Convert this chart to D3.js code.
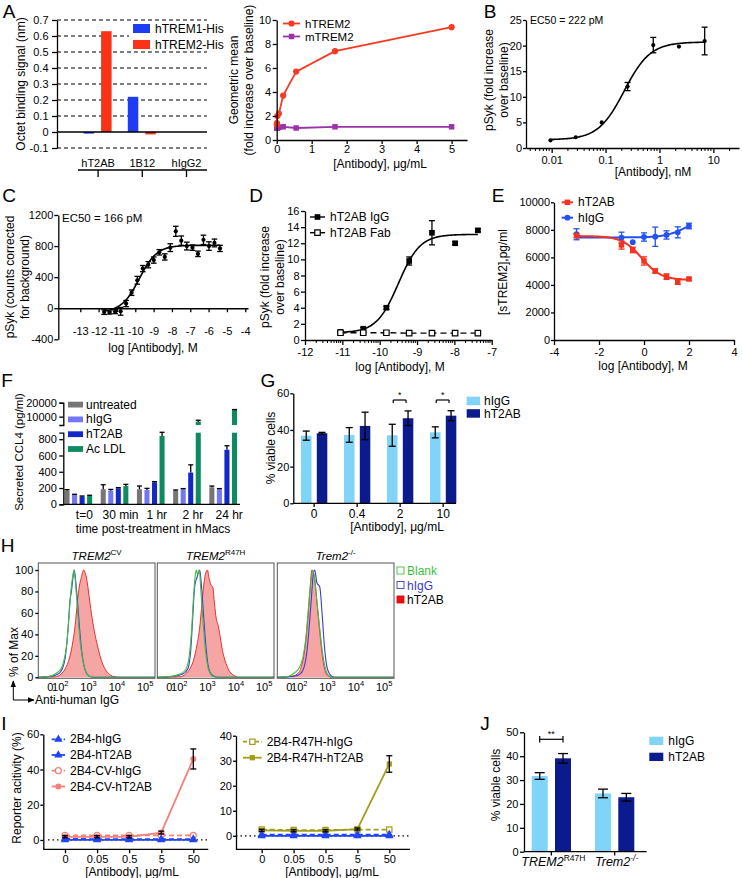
<!DOCTYPE html>
<html><head><meta charset="utf-8">
<script src="https://cdn.jsdelivr.net/npm/d3@7/dist/d3.min.js"></script>
<style>html,body{margin:0;padding:0;background:#fff;}svg{display:block}</style>
</head><body>
<script>
// ================= DATA =================
// A (left): Octet binding
const aCats = ["hT2AB","1B12","hIgG2"];
const aSeries = ["hTREM1-His","hTREM2-His"];
const aTREM1 = [-0.01, 0.22, 0];
const aTREM2 = [0.63, -0.015, 0];
const aYTicks = [-0.1,0,0.1,0.2,0.3,0.4,0.5,0.6,0.7];
// A (right): geometric mean
const a2Dose = [0.0023,0.0069,0.021,0.062,0.185,0.556,1.667,5];
const a2hTREM2 = [1.3,1.4,2.0,2.2,3.7,5.7,7.4,9.4];
const a2mTREM2 = [1.0,1.0,1.0,1.05,1.1,1.0,1.1,1.1];
const a2XTicks = [0,1,2,3,4,5];
const a2YTicks = [0,2,4,6,8,10];
// B
const bDose = [0.0095,0.028,0.085,0.256,0.767,2.3,6.9];
const bPSyk = [1.5,2.1,5.0,12.0,20.1,19.8,20.9];
const bErr  = [0,0,0,0.8,1.5,0,2.7];
const bFit  = [1.6,20.7,Math.log10(0.222),1.8]; // left, right, logEC50, Hill
const bXTicks = [0.01,0.1,1,10];
const bYTicks = [0,5,10,15,20,25];
// C
const cLogDose = [-11.70,-11.40,-11.10,-10.80,-10.50,-10.20,-9.89,-9.59,-9.29,-8.99,-8.69,-8.39,-8.09,-7.79,-7.49,-7.19,-6.88,-6.58,-6.28,-5.98,-5.68,-5.38];
const cPSyk = [-50,-55,-45,-40,60,200,360,510,560,620,720,660,780,990,870,800,780,700,880,800,840,770];
const cErr  = [30,20,25,50,40,35,50,40,40,40,35,40,50,65,60,50,35,35,60,55,50,40];
const cFit  = [-50,810,-9.78,0.9];
const cXTicks = [-13,-12,-11,-10,-9,-8,-7,-6,-5,-4];
const cYTicks = [-400,0,400,800,1200];
// D
const dLogDose = [-11.05,-10.44,-9.82,-9.21,-8.60,-7.98,-7.37];
const dIgG = [1.0,1.4,4.0,9.8,13.3,12.0,13.6];
const dIgGErr = [0.1,0.15,0.2,0.5,1.5,0.2,0.2];
const dFab = [0.9,0.9,0.9,0.85,0.85,0.85,0.85];
const dFit = [0.9,13.1,-9.5,1.5];
const dXTicks = [-12,-11,-10,-9,-8,-7];
const dYTicks = [0,2,4,6,8,10,12,14,16];
// E
const eLogDose = [-3,-1,-0.5,0,0.5,1,1.5,2];
const eHT2AB = [7580,6900,6540,5740,5010,4600,4240,4430];
const eHT2ABErr = [150,300,200,300,150,200,200,100];
const eHIgG = [7680,7430,7100,7480,7500,7630,7820,8280];
const eHIgGErr = [400,400,0,300,700,300,400,200];
const eFitHT2AB = [7550,4350,-0.1,1];
const eFitHIgG = [7450,8800,1.8,1];
const eXTicks = [-4,-2,0,2,4];
const eYTicks = [0,2000,4000,6000,8000,10000];
// F
const fGroups = ["t=0","30 min","1 hr","2 hr","24 hr"];
const fSeries = ["untreated","hIgG","hT2AB","Ac LDL"];
const fUntreated = [168,185,185,168,209];
const fHIgG = [115,168,176,185,185];
const fHT2AB = [94,197,270,390,670];
const fAcLDL = [103,225,840,6400,14800];
const fUntreatedErr = [12,55,40,8,15];
const fHIgGErr = [8,15,20,8,8];
const fHT2ABErr = [8,8,8,95,50];
const fAcLDLErr = [8,20,45,1000,300];
const fLowTicks = [0,200,400,600,800];
const fHighTicks = [10000,20000];
// G
const gCats = ["0","0.4","2","10"];
const gHIgG = [36.9,37.3,37.1,38.7];
const gHIgGErr = [2.5,4,6,3];
const gHT2AB = [38.2,42.2,46.4,47.8];
const gHT2ABErr = [0.5,7.5,4,2.7];
const gYTicks = [0,20,40,60];
// H (x in log10 display units, y in % of max)
const hCV_Blank = [[1.3,0],[1.7,1],[1.95,4],[2.1,8],[2.2,15],[2.3,30],[2.38,55],[2.45,80],[2.52,95],[2.56,100],[2.6,92],[2.65,75],[2.72,50],[2.8,28],[2.9,12],[3.0,4],[3.1,1],[3.3,0],[5.42,0]];
const hCV_hIgG = [[1.3,0],[1.75,1],[2.0,3],[2.15,8],[2.25,18],[2.35,45],[2.42,72],[2.47,80],[2.52,92],[2.57,100],[2.62,90],[2.68,72],[2.75,48],[2.82,27],[2.92,10],[3.02,3],[3.15,0.5],[3.3,0],[5.42,0]];
const hCV_hT2AB = [[1.3,0],[1.9,0.5],[2.1,3],[2.25,8],[2.4,18],[2.5,30],[2.6,48],[2.68,70],[2.75,85],[2.82,93],[2.9,100],[2.97,96],[3.03,88],[3.1,74],[3.2,55],[3.3,40],[3.42,26],[3.55,14],[3.7,6],[3.85,2],[4.0,0.5],[4.2,0],[5.42,0]];
const hR47H_Blank = [[1.3,0],[1.8,1],[2.1,3],[2.3,7],[2.4,15],[2.5,40],[2.58,75],[2.64,95],[2.68,100],[2.72,96],[2.78,100],[2.84,80],[2.92,50],[3.0,25],[3.08,10],[3.18,3],[3.3,0.5],[3.5,0],[5.42,0]];
const hR47H_hIgG = [[1.3,0],[1.9,1],[2.2,3],[2.38,8],[2.48,25],[2.56,60],[2.62,85],[2.7,93],[2.76,98],[2.8,100],[2.86,85],[2.94,55],[3.02,28],[3.1,10],[3.2,3],[3.35,0.5],[3.5,0],[5.42,0]];
const hR47H_hT2AB = [[1.3,0],[2.1,0.5],[2.3,3],[2.45,8],[2.58,16],[2.7,30],[2.8,47],[2.88,70],[2.94,86],[3.0,96],[3.07,100],[3.13,92],[3.2,86],[3.26,84],[3.32,68],[3.38,55],[3.45,48],[3.52,38],[3.6,25],[3.7,15],[3.8,8],[3.9,4],[4.05,1],[4.2,0],[5.42,0]];
const hKO_Blank = [[1.3,0],[1.7,1],[1.9,4],[2.05,8],[2.2,18],[2.3,35],[2.4,65],[2.48,88],[2.55,100],[2.62,92],[2.7,70],[2.8,45],[2.9,22],[3.0,8],[3.1,2],[3.25,0],[5.42,0]];
const hKO_hIgG = [[1.3,0],[1.9,1],[2.1,3],[2.25,10],[2.35,25],[2.45,55],[2.52,80],[2.58,98],[2.62,100],[2.7,88],[2.8,84],[2.88,60],[2.96,30],[3.05,10],[3.15,3],[3.3,0],[5.42,0]];
const hKO_hT2AB = [[1.3,0],[1.8,1],[2.0,3],[2.15,10],[2.28,28],[2.38,55],[2.45,80],[2.52,100],[2.6,95],[2.7,70],[2.8,42],[2.9,18],[3.0,5],[3.1,1],[3.25,0],[5.42,0]];
const hTitles = ["TREM2","TREM2","Trem2"];
const hTitleSups = ["CV","R47H","-/-"];
const hXTickPos = [1.72,2,3,4,5];
const hXTickBase = ["0","10","10","10","10"];
const hXTickExp = ["","2","3","4","5"];
const hYTicks = [0,20,40,60,80,100];
const hLegend = ["Blank","hIgG","hT2AB"];
// I
const iCats = ["0","0.05","0.5","5","50"];
const i2B4hIgG = [0.6,0.5,0.5,0.5,0.5];
const i2B4hT2AB = [0,0,0,0,0];
const iCVhIgG = [2.6,2.6,2.6,2.6,2.6];
const iCVhT2AB = [1.8,1.8,1.8,4.2,46];
const iCVhT2ABErr = [0.6,0.6,0.6,0.8,5.7];
const iR2B4hIgG = [0.5,0.5,0.5,0.5,0.5];
const iR2B4hT2AB = [0,0,0,0,0];
const iR47HhIgG = [2.5,2.3,2.3,2.5,2.5];
const iR47HhT2AB = [2.2,2.0,2.0,2.7,28.7];
const iR47HhT2ABErr = [0.4,0.4,0.4,0.4,3.3];
const iLeftYTicks = [0,20,40,60];
const iRightYTicks = [0,10,20,30,40];
// J
const jCats = ["TREM2R47H","Trem2-/-"];
const jCatBase = ["TREM2","Trem2"];
const jCatSup = ["R47H","-/-"];
const jHIgG = [31.7,24.4];
const jHIgGErr = [1.4,1.8];
const jHT2AB = [39.1,22.8];
const jHT2ABErr = [2,1.6];
const jYTicks = [0,10,20,30,40,50];

// ================= HELPERS =================
const FONT = "'Liberation Sans', Arial, Helvetica, sans-serif";
const svg = d3.select("body").append("svg").attr("width",742).attr("height",878)
  .style("font-family",FONT);
const defs = svg.append("defs");
defs.append("marker").attr("id","arr").attr("viewBox","0 0 10 10").attr("refX",9).attr("refY",5)
  .attr("markerWidth",7).attr("markerHeight",7).attr("orient","auto")
  .append("path").attr("d","M0,1L10,5L0,9Z").attr("fill","#000");

function txt(x,y,s,o={}){
  const t = svg.append("text").attr("x",x).attr("y",y).attr("font-size",o.size||11)
    .attr("text-anchor",o.anchor||"middle").attr("dominant-baseline",o.base||"central")
    .attr("fill",o.fill||"#000").text(s);
  if(o.rot) t.attr("transform",`rotate(${o.rot},${x},${y})`);
  if(o.italic) t.attr("font-style","italic");
  return t;
}
function sty(g){
  g.attr("font-family",FONT).attr("font-size",11);
  g.select(".domain").attr("stroke","#000").attr("stroke-width",1.3);
  g.selectAll(".tick line").attr("stroke","#000").attr("stroke-width",1.3);
  g.selectAll(".tick text").attr("fill","#000");
  return g;
}
const sfmt = d => String(d);
function yAx(x,scale,ticks,ts,pad,outer){
  return sty(svg.append("g").attr("transform",`translate(${x},0)`)
    .call(d3.axisLeft(scale).tickValues(ticks).tickSize(ts).tickSizeOuter(outer||0).tickPadding(pad).tickFormat(sfmt)));
}
function xAx(y,scale,ticks,ts,pad){
  return sty(svg.append("g").attr("transform",`translate(0,${y})`)
    .call(d3.axisBottom(scale).tickValues(ticks).tickSize(ts).tickSizeOuter(0).tickPadding(pad).tickFormat(sfmt)));
}
function hline(x1,x2,y,o={}){
  return svg.append("line").attr("x1",x1).attr("x2",x2).attr("y1",y).attr("y2",y)
    .attr("stroke",o.c||"#000").attr("stroke-width",o.w||1.3).attr("stroke-dasharray",o.dash||null);
}
function vline(x,y1,y2,o={}){
  return svg.append("line").attr("x1",x).attr("x2",x).attr("y1",y1).attr("y2",y2)
    .attr("stroke",o.c||"#000").attr("stroke-width",o.w||1.3);
}
function ebar(x,yTop,yBot,cap,color){
  const g = svg.append("g").attr("stroke",color||"#000").attr("stroke-width",1.3);
  g.append("line").attr("x1",x).attr("x2",x).attr("y1",yTop).attr("y2",yBot);
  g.append("line").attr("x1",x-cap).attr("x2",x+cap).attr("y1",yTop).attr("y2",yTop);
  g.append("line").attr("x1",x-cap).attr("x2",x+cap).attr("y1",yBot).attr("y2",yBot);
}
function fourPL(p,x){ return p[0] + (p[1]-p[0])/(1+Math.pow(10,(p[2]-x)*p[3])); }
function fitPath(lo,hi,p,xS,yS){
  const xs = d3.range(0,121).map(i=>lo+(hi-lo)*i/120);
  return d3.line().x(x=>xS(x)).y(x=>yS(fourPL(p,x)))(xs);
}
function sym(type,size){ return d3.symbol().type(type).size(size)(); }
function marker(x,y,type,size,fill,stroke){
  svg.append("path").attr("d",sym(type,size)).attr("transform",`translate(${x},${y})`)
    .attr("fill",fill).attr("stroke",stroke||"none").attr("stroke-width",1.2);
}
function letter(x,y,s){ txt(x,y,s,{size:19}); }

// ================= PANEL A (left) =================
(function(){
  const y = d3.scaleLinear().domain([-0.1,0.7]).range([148,20]);
  const x0 = d3.scaleBand().domain(aCats).range([76,208.6]);
  const x1 = d3.scaleBand().domain(aSeries).range([-14.5,13.5]).paddingInner(0.4);
  const col = ["#1f3cf5","#fa3217"];
  aYTicks.filter(t=>t!==0).forEach(t=>hline(57,207,y(t),{w:1.2,dash:"4,3"}));
  svg.append("rect").attr("x",129).attr("y",23).attr("width",80).attr("height",28).attr("fill","#fff");
  [aTREM1,aTREM2].forEach((vals,si)=>{
    vals.forEach((v,i)=>{
      if(v===0) return;
      const cx = x0(aCats[i]) + x0.bandwidth()/2;
      svg.append("rect").attr("x",cx + x1(aSeries[si])).attr("width",x1.bandwidth())
        .attr("y",Math.min(y(v),y(0))).attr("height",Math.abs(y(v)-y(0))).attr("fill",col[si]);
    });
  });
  hline(57,207,y(0));
  yAx(57,y,aYTicks,5,3.5);
  aSeries.forEach((s,i)=>{
    svg.append("rect").attr("x",133).attr("y",24+i*16).attr("width",17).attr("height",9).attr("fill",col[i]);
    txt(155,29+i*16,s,{size:12,anchor:"start"});
  });
  hline(78,207,170);
  aCats.forEach(c=>{
    const cx = x0(c)+x0.bandwidth()/2;
    txt(cx,163,c,{size:11});
    vline(cx,170,177);
  });
  txt(21,84,"Octet binding signal (nm)",{rot:-90,size:12});
  letter(9,11,"A");
})();

// ================= PANEL A (right) =================
(function(){
  const x = d3.scaleLinear().domain([0,5.44]).range([276.7,467]);
  const y = d3.scaleLinear().domain([0,10]).range([140,20]);
  const red = "#f93a22", pur = "#9b33a8";
  const line = d3.line().x((d,i)=>x(a2Dose[i])).y(d=>y(d));
  svg.append("path").attr("d",line(a2mTREM2)).attr("fill","none").attr("stroke",pur).attr("stroke-width",1.8);
  svg.append("path").attr("d",line(a2hTREM2)).attr("fill","none").attr("stroke",red).attr("stroke-width",1.8);
  a2mTREM2.forEach((v,i)=>marker(x(a2Dose[i]),y(v),d3.symbolSquare,30,pur));
  a2hTREM2.forEach((v,i)=>marker(x(a2Dose[i]),y(v),d3.symbolCircle,30,red));
  yAx(276.7,y,a2YTicks,4,1.5);
  xAx(140,x,a2XTicks,4,1);
  hline(283,300,23.5,{c:red,w:1.8}); marker(291.5,23.5,d3.symbolCircle,30,red);
  txt(305,23.5,"hTREM2",{size:11.5,anchor:"start"});
  hline(283,300,36.5,{c:pur,w:1.8}); marker(291.5,36.5,d3.symbolSquare,30,pur);
  txt(305,36.5,"mTREM2",{size:11.5,anchor:"start"});
  txt(380,164,"[Antibody], \u03bcg/mL",{size:12});
  txt(234,80,"Geometric mean",{rot:-90,size:12});
  txt(249,80,"(fold increase over baseline)",{rot:-90,size:12});
  letter(490,11,"B");
})();

// ================= PANEL B =================
(function(){
  const x = d3.scaleLog().domain([0.00334,29.9]).range([526,739]);
  const y = d3.scaleLinear().domain([0,25]).range([148,20]);
  svg.append("path").attr("d",fitPath(Math.log10(bDose[0]),Math.log10(bDose[6]),bFit,v=>x(Math.pow(10,v)),y))
    .attr("fill","none").attr("stroke","#000").attr("stroke-width",1.6);
  bDose.forEach((d,i)=>{
    if(bErr[i]) ebar(x(d),y(bPSyk[i]+bErr[i]),y(bPSyk[i]-bErr[i]),3);
    marker(x(d),y(bPSyk[i]),d3.symbolCircle,14,"#000");
  });
  yAx(526,y,bYTicks,3,1);
  xAx(148,x,bXTicks,5,3);
  [-3,-2,-1,0,1].forEach(dd=>d3.range(2,10).forEach(k=>{
    const v = k*Math.pow(10,dd);
    if(v>x.domain()[0] && v<x.domain()[1]) vline(x(v),148,151,{w:1});
  }));
  txt(530,20,"EC50 = 222 pM",{size:10.5,anchor:"start"});
  txt(653,172,"[Antibody], nM",{size:12});
  txt(489,80,"pSyk (fold increase",{rot:-90,size:12});
  txt(504,80,"over baseline)",{rot:-90,size:12});
})();

// ================= PANEL C =================
(function(){
  const x = d3.scaleLinear().domain([-14.2,-3.85]).range([58.3,248]);
  const y = d3.scaleLinear().domain([-400,1200]).range([339.3,215]);
  svg.append("path").attr("d",fitPath(cLogDose[0],cLogDose[cLogDose.length-1],cFit,x,y))
    .attr("fill","none").attr("stroke","#000").attr("stroke-width",1.6);
  cLogDose.forEach((d,i)=>{
    ebar(x(d),y(cPSyk[i]+cErr[i]),y(cPSyk[i]-cErr[i]),2.8);
    marker(x(d),y(cPSyk[i]),d3.symbolCircle,14,"#000");
  });
  yAx(58.3,y,cYTicks,4,1);
  xAx(y(0),x,cXTicks,4,15);
  txt(62,218,"EC50 = 166 pM",{size:11.5,anchor:"start"});
  txt(153,348,"log [Antibody], M",{size:12});
  txt(10,277,"pSyk (counts corrected",{rot:-90,size:12});
  txt(25,277,"for background)",{rot:-90,size:12});
  letter(9,195,"C");
})();

// ================= PANEL D =================
(function(){
  const x = d3.scaleLinear().domain([-12,-7]).range([305,491.7]);
  const y = d3.scaleLinear().domain([0,16]).range([340,211]);
  svg.append("path").attr("d",d3.line().x((d,i)=>x(dLogDose[i])).y(d=>y(d))(dFab))
    .attr("fill","none").attr("stroke","#000").attr("stroke-width",1.4).attr("stroke-dasharray","6,4");
  svg.append("path").attr("d",fitPath(dLogDose[0],dLogDose[dLogDose.length-1],dFit,x,y))
    .attr("fill","none").attr("stroke","#000").attr("stroke-width",1.6);
  dLogDose.forEach((d,i)=>{
    ebar(x(d),y(dIgG[i]+dIgGErr[i]),y(dIgG[i]-dIgGErr[i]),3);
    marker(x(d),y(dIgG[i]),d3.symbolSquare,32,"#000");
    marker(x(d),y(dFab[i]),d3.symbolSquare,30,"#fff","#000");
  });
  yAx(305,y,dYTicks,4,1.5);
  xAx(340,x,dXTicks,5,3);
  [-12,-11,-10,-9,-8].forEach(dd=>d3.range(2,10).forEach(k=>vline(x(dd+Math.log10(k)),340,343,{w:1})));
  hline(310,325,217,{w:1.4}); marker(317.5,217,d3.symbolSquare,32,"#000");
  txt(330,217,"hT2AB IgG",{size:12,anchor:"start"});
  hline(310,325,232.7,{w:1.4}); marker(317.5,232.7,d3.symbolSquare,30,"#fff","#000");
  txt(330,232.7,"hT2AB Fab",{size:12,anchor:"start"});
  txt(400,367,"log [Antibody], M",{size:12});
  txt(265,277,"pSyk (fold increase",{rot:-90,size:12});
  txt(280,277,"over baseline)",{rot:-90,size:12});
  letter(256,195,"D");
})();

// ================= PANEL E =================
(function(){
  const x = d3.scaleLinear().domain([-4,4]).range([554,734]);
  const y = d3.scaleLinear().domain([0,10000]).range([340,202.3]);
  const red = "#f5321f", blue = "#2451f0";
  svg.append("path").attr("d",fitPath(-3,2,eFitHIgG,x,y)).attr("fill","none").attr("stroke",blue).attr("stroke-width",2);
  svg.append("path").attr("d",fitPath(-3,2,eFitHT2AB,x,y)).attr("fill","none").attr("stroke",red).attr("stroke-width",2);
  eLogDose.forEach((d,i)=>{
    if(eHIgGErr[i]) ebar(x(d),y(eHIgG[i]+eHIgGErr[i]),y(eHIgG[i]-eHIgGErr[i]),3,blue);
    marker(x(d),y(eHIgG[i]),d3.symbolCircle,26,blue);
    if(eHT2ABErr[i]) ebar(x(d),y(eHT2AB[i]+eHT2ABErr[i]),y(eHT2AB[i]-eHT2ABErr[i]),3,red);
    marker(x(d),y(eHT2AB[i]),d3.symbolSquare,30,red);
  });
  yAx(554,y,eYTicks,3,1);
  xAx(340,x,eXTicks,5,3);
  hline(561.7,573,202.3,{c:red,w:2}); marker(567.4,202.3,d3.symbolSquare,30,red);
  txt(578,202.3,"hT2AB",{size:12,anchor:"start"});
  hline(561.7,573,217.7,{c:blue,w:2}); marker(567.4,217.7,d3.symbolCircle,26,blue);
  txt(578,217.7,"hIgG",{size:12,anchor:"start"});
  txt(643,366,"log [Antibody], M",{size:12});
  txt(503,272,"[sTREM2],pg/ml",{rot:-90,size:12});
  letter(498,195,"E");
})();

// ================= PANEL F =================
(function(){
  const x0 = d3.scaleBand().domain(fGroups).range([64.5,237]).paddingInner(0.236);
  const x1 = d3.scaleBand().domain(fSeries).range([0,x0.bandwidth()]).paddingInner(0.33);
  const yLow = d3.scaleLinear().domain([0,880]).range([504.3,432.7]);
  const yHigh = d3.scaleLinear().domain([4000,20000]).range([425,402.7]);
  const cols = ["#767676","#7377f5","#1428c8","#0e8a5f"];
  const vals = [fUntreated,fHIgG,fHT2AB,fAcLDL];
  const errs = [fUntreatedErr,fHIgGErr,fHT2ABErr,fAcLDLErr];
  fGroups.forEach((g,gi)=>{
    fSeries.forEach((s,si)=>{
      const v = vals[si][gi], e = errs[si][gi];
      const bx = x0(g)+x1(s), bw = x1.bandwidth(), cx = bx+bw/2;
      if(v<=880){
        svg.append("rect").attr("x",bx).attr("width",bw).attr("y",yLow(v)).attr("height",yLow(0)-yLow(v)).attr("fill",cols[si]);
        vline(cx,yLow(v),yLow(v+e)); hline(cx-2.5,cx+2.5,yLow(v+e));
      } else {
        svg.append("rect").attr("x",bx).attr("width",bw).attr("y",yLow(880)).attr("height",yLow(0)-yLow(880)).attr("fill",cols[si]);
        svg.append("rect").attr("x",bx).attr("width",bw).attr("y",yHigh(v)).attr("height",yHigh(4000)-yHigh(v)).attr("fill",cols[si]);
        vline(cx,yHigh(v),yHigh(v+e)); hline(cx-2.5,cx+2.5,yHigh(v+e));
      }
    });
    txt(x0(g)+x0.bandwidth()/2+6,514.5,g,{size:12});
  });
  yAx(63.3,yLow,fLowTicks,4,2.5,4);
  yAx(63.3,yHigh,fHighTicks,4,2.5,4);
  hline(63.3,240,504.3);
  fSeries.forEach((s,i)=>{
    svg.append("rect").attr("x",68).attr("y",401.7+i*14.8).attr("width",15).attr("height",5.8).attr("fill",cols[i]);
    txt(86,404.6+i*14.8,s,{size:12,anchor:"start"});
  });
  txt(153,528.5,"time post-treatment in hMacs",{size:12});
  txt(19,452,"Secreted CCL4 (pg/ml)",{rot:-90,size:11.5});
  letter(7,380,"F");
})();

// ================= PANEL G =================
(function(){
  const x0 = d3.scaleBand().domain(gCats).range([301,301+4*43]);
  const x1 = d3.scaleBand().domain(["hIgG","hT2AB"]).range([0,26.3]).paddingInner(0.335);
  const y = d3.scaleLinear().domain([0,60]).range([503.3,393.3]);
  const cols = ["#7fd4f8","#0b1a8c"];
  const vals = [gHIgG,gHT2AB], errs = [gHIgGErr,gHT2ABErr];
  gCats.forEach((c,ci)=>{
    ["hIgG","hT2AB"].forEach((s,si)=>{
      const v = vals[si][ci], e = errs[si][ci], bx = x0(c)+x1(s), bw = x1.bandwidth();
      svg.append("rect").attr("x",bx).attr("width",bw).attr("y",y(v)).attr("height",y(0)-y(v)).attr("fill",cols[si]);
      ebar(bx+bw/2,y(v+e),y(v-e),3.5);
    });
    const gc = x0(c)+13.15;
    vline(gc,503.3,507);
    txt(gc,513.5,c,{size:12});
  });
  hline(293.3,456,503.3);
  yAx(293.3,y,gYTicks,3,1);
  ["2","10"].forEach(c=>{
    const xa = x0(c)+x1("hIgG")+x1.bandwidth()/2+1, xb = x0(c)+x1("hT2AB")+x1.bandwidth()/2-2;
    hline(xa,xb,400,{w:1.2}); vline(xa,400,403,{w:1.2}); vline(xb,400,403,{w:1.2});
    txt((xa+xb)/2,395,"*",{size:9});
  });
  ["hIgG","hT2AB"].forEach((s,i)=>{
    svg.append("rect").attr("x",466.7).attr("y",396.7+i*12.5).attr("width",13.3).attr("height",8.5).attr("fill",cols[i]);
    txt(484,401+i*12.5,s,{size:12,anchor:"start"});
  });
  txt(397,526.5,"[Antibody], \u03bcg/mL",{size:12});
  txt(271,448,"% viable cells",{rot:-90,size:12});
  letter(268,380,"G");
})();

// ================= PANEL H =================
(function(){
  const hy = d3.scaleLinear().domain([0,100]).range([677.3,570]);
  const lefts = [38.3,157.3,277.3];
  const data = [[hCV_Blank,hCV_hIgG,hCV_hT2AB],[hR47H_Blank,hR47H_hIgG,hR47H_hT2AB],[hKO_Blank,hKO_hIgG,hKO_hT2AB]];
  const green = "#3fbf3f", blue = "#3b3bd6", red = "#e8302a";
  lefts.forEach((L,fi)=>{
    const hx = d3.scaleLinear().domain([1.3,5.42]).range([L,L+116.7]);
    const [bl,ig,t2] = data[fi];
    const area = d3.area().x(d=>hx(d[0])).y0(hy(0)).y1(d=>hy(d[1])).curve(d3.curveMonotoneX);
    const line = d3.line().x(d=>hx(d[0])).y(d=>hy(d[1])).curve(d3.curveMonotoneX);
    svg.append("path").attr("d",area(t2)).attr("fill","#f6a5a5");
    svg.append("path").attr("d",line(t2)).attr("fill","none").attr("stroke",red).attr("stroke-width",1);
    svg.append("path").attr("d",line(ig)).attr("fill","none").attr("stroke",blue).attr("stroke-width",1.1);
    svg.append("path").attr("d",line(bl)).attr("fill","none").attr("stroke",green).attr("stroke-width",1.1);
    svg.append("rect").attr("x",L).attr("y",563).attr("width",116.7).attr("height",115.3)
      .attr("fill","none").attr("stroke","#555").attr("stroke-width",1);
    hXTickPos.forEach((p,i)=>{
      const t = svg.append("text").attr("y",690.5).attr("font-size",11).attr("fill","#000");
      if(hXTickExp[i]){
        t.attr("x",hx(p)-6.1).attr("text-anchor","start");
        t.append("tspan").text(hXTickBase[i]);
        t.append("tspan").attr("font-size",7.5).attr("dy",-4.5).text(hXTickExp[i]);
      } else {
        t.attr("x",hx(p)).attr("text-anchor","middle").text(hXTickBase[i]);
      }
    });
    const tt = svg.append("text").attr("x",L+58.35).attr("y",560).attr("font-size",11.5).attr("text-anchor","middle");
    tt.append("tspan").attr("font-style","italic").text(hTitles[fi]);
    tt.append("tspan").attr("font-size",8).attr("dy",-5).text(hTitleSups[fi]);
  });
  const g = yAx(38.3,hy,hYTicks,3,2);
  g.select(".domain").remove();
  const lc = [green,blue,"#000"];
  hLegend.forEach((s,i)=>{
    const r = svg.append("rect").attr("x",397).attr("y",567+i*14.5).attr("width",7).attr("height",7);
    if(i===2) r.attr("fill","#f01010").attr("stroke","#c00").attr("stroke-width",0.8);
    else r.attr("fill","#fff").attr("stroke",lc[i]).attr("stroke-width",0.9);
    txt(407,571+i*14.5,s,{size:12,anchor:"start",fill:lc[i]});
  });
  txt(14,652,"% of Max",{rot:-90,size:12});
  svg.append("line").attr("x1",13.3).attr("x2",13.3).attr("y1",700).attr("y2",681).attr("stroke","#000").attr("stroke-width",1).attr("marker-end","url(#arr)");
  svg.append("line").attr("x1",13.3).attr("x2",34).attr("y1",700).attr("y2",700).attr("stroke","#000").attr("stroke-width",1).attr("marker-end","url(#arr)");
  txt(35,700,"Anti-human IgG",{size:12,anchor:"start"});
  letter(7.5,545,"H");
})();

// ================= PANEL I =================
(function(){
  const blue = "#1f45f5", salmon = "#f5807a", olive = "#a29e1b";
  function drawSeries(xS,yS,vals,color,dash,type,open,w){
    svg.append("path").attr("d",d3.line().x((d,i)=>xS(iCats[i])).y(d=>yS(d))(vals))
      .attr("fill","none").attr("stroke",color).attr("stroke-width",w||1.8).attr("stroke-dasharray",dash?"5,3":null);
    vals.forEach((v,i)=>marker(xS(iCats[i]),yS(v),type,type===d3.symbolTriangle?30:28,open?"#fff":color,open?color:null));
  }
  function legendItem(x1,x2,y,color,dash,type,open,label){
    hline(x1,x2,y,{c:color,w:1.8,dash:dash?"4,2":null});
    marker((x1+x2)/2,y,type,type===d3.symbolTriangle?30:28,open?"#fff":color,open?color:null);
    txt(x2+5,y,label,{size:12,anchor:"start"});
  }
  // left
  const xl = d3.scalePoint().domain(iCats).range([65,193.3]);
  const yl = d3.scaleLinear().domain([-5.3,60]).range([849.3,734.3]);
  hline(48,208,yl(0),{w:1.3,dash:"1.5,3"});
  drawSeries(xl,yl,iCVhIgG,salmon,true,d3.symbolCircle,true);
  drawSeries(xl,yl,iCVhT2AB,salmon,false,d3.symbolCircle,false);
  drawSeries(xl,yl,i2B4hIgG,blue,true,d3.symbolTriangle,false);
  drawSeries(xl,yl,i2B4hT2AB,blue,false,d3.symbolTriangle,false);
  iCats.forEach((c,i)=>ebar(xl(c),yl(iCVhT2AB[i]+iCVhT2ABErr[i]),yl(iCVhT2AB[i]-iCVhT2ABErr[i]),3));
  yAx(43.3,yl,iLeftYTicks,3,1);
  const gl = xAx(849.3,xl,iCats,4,2); gl.select(".domain").remove();
  hline(43.3,208.3,849.3);
  legendItem(51.7,65,739.3,blue,true,d3.symbolTriangle,false,"2B4-hIgG");
  legendItem(51.7,65,755,blue,false,d3.symbolTriangle,false,"2B4-hT2AB");
  legendItem(51.7,65,770.7,salmon,true,d3.symbolCircle,true,"2B4-CV-hIgG");
  legendItem(51.7,65,786.5,salmon,false,d3.symbolCircle,false,"2B4-CV-hT2AB");
  txt(132,871.5,"[Antibody], \u03bcg/mL",{size:12});
  txt(16.7,788,"Reporter acitivity (%)",{rot:-90,size:12});
  // right
  const xr = d3.scalePoint().domain(iCats).range([261.7,389.3]);
  const yr = d3.scaleLinear().domain([-5.4,40]).range([849.3,735.7]);
  hline(236,410,yr(0),{w:1.3,dash:"1.5,3"});
  drawSeries(xr,yr,iR47HhIgG,olive,true,d3.symbolSquare,true);
  drawSeries(xr,yr,iR47HhT2AB,olive,false,d3.symbolSquare,false);
  drawSeries(xr,yr,iR2B4hIgG,blue,true,d3.symbolTriangle,false);
  drawSeries(xr,yr,iR2B4hT2AB,blue,false,d3.symbolTriangle,false);
  iCats.forEach((c,i)=>ebar(xr(c),yr(iR47HhT2AB[i]+iR47HhT2ABErr[i]),yr(iR47HhT2AB[i]-iR47HhT2ABErr[i]),3));
  yAx(236,yr,iRightYTicks,3,1);
  const gr = xAx(849.3,xr,iCats,4,2); gr.select(".domain").remove();
  hline(236,410,849.3);
  legendItem(243,261.7,741.7,olive,true,d3.symbolSquare,true,"2B4-R47H-hIgG");
  legendItem(243,261.7,757.7,olive,false,d3.symbolSquare,false,"2B4-R47H-hT2AB");
  txt(332,871.5,"[Antibody], \u03bcg/mL",{size:12});
  letter(4,723,"I");
})();

// ================= PANEL J =================
(function(){
  const x0 = d3.scaleBand().domain(jCats).range([531.7,531.7+2*63.3]);
  const x1 = d3.scaleBand().domain(["hIgG","hT2AB"]).range([0,39.3]).paddingInner(0.313);
  const y = d3.scaleLinear().domain([0,50]).range([851.7,732.3]);
  const cols = ["#7fd4f8","#0b1a8c"];
  const vals = [jHIgG,jHT2AB], errs = [jHIgGErr,jHT2ABErr];
  jCats.forEach((c,ci)=>{
    ["hIgG","hT2AB"].forEach((s,si)=>{
      const v = vals[si][ci], e = errs[si][ci], bx = x0(c)+x1(s), bw = x1.bandwidth();
      svg.append("rect").attr("x",bx).attr("width",bw).attr("y",y(v)).attr("height",y(0)-y(v)).attr("fill",cols[si]);
      ebar(bx+bw/2,y(v+e),y(v-e),5);
    });
    const gc = x0(c)+19.65;
    vline(gc,851.7,855.5);
    const t = svg.append("text").attr("x",gc+2).attr("y",866).attr("font-size",12.5).attr("text-anchor","middle");
    t.append("tspan").attr("font-style","italic").text(jCatBase[ci]);
    t.append("tspan").attr("font-size",8.5).attr("dy",-5).attr("font-style",ci===1?"italic":"normal").text(jCatSup[ci]);
  });
  hline(524,646.7,851.7);
  yAx(524,y,jYTicks,4,1.5);
  const xa = x0(jCats[0])+x1("hIgG")+x1.bandwidth()/2, xb = x0(jCats[0])+x1("hT2AB")+x1.bandwidth()/2;
  hline(xa,xb,739.3,{w:1.2}); vline(xa,736,742.5,{w:1.2}); vline(xb,736,742.5,{w:1.2});
  txt((xa+xb)/2,734,"**",{size:9});
  ["hIgG","hT2AB"].forEach((s,i)=>{
    svg.append("rect").attr("x",649.3).attr("y",736.7+i*16).attr("width",14).attr("height",8.3).attr("fill",cols[i]);
    txt(668.3,741+i*16,s,{size:12,anchor:"start"});
  });
  txt(496,785,"% viable cells",{rot:-90,size:12});
  letter(485,723,"J");
})();
</script>
</body></html>
